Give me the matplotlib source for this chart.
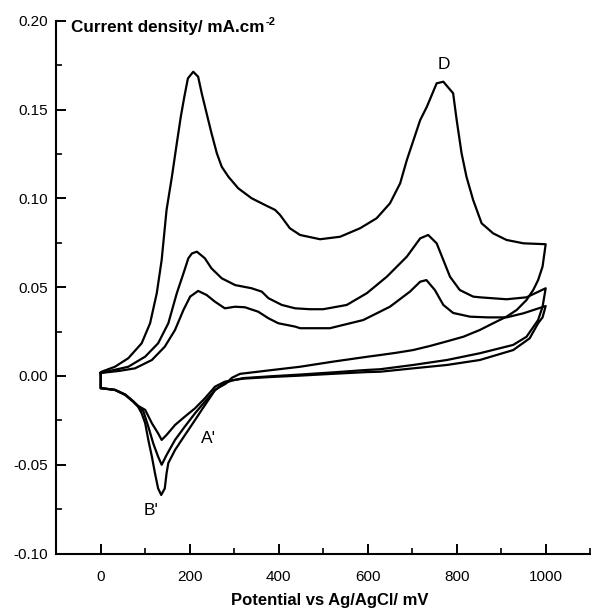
import matplotlib
matplotlib.use("Agg")
import matplotlib.pyplot as plt
import numpy as np
from matplotlib.ticker import MultipleLocator, FormatStrFormatter

plt.rcParams['font.family'] = ['Liberation Sans', 'DejaVu Sans']

# ---------------- data (potential mV, current density mA/cm2) ----------------
# cycle 1 - anodic sweep
c1_an_x = [0, 2, 32, 62, 92, 111, 126, 137, 148, 160, 171, 180, 188, 196, 208, 219, 227, 238,
           249, 261, 272, 287, 309, 339, 369, 392, 403, 425, 448, 493, 538, 583, 620, 650, 673,
           688, 718, 733, 755, 770, 792, 800, 811, 822, 837, 856, 882, 912, 950, 1000]
c1_an_y = [0.0017, 0.0024, 0.0052, 0.0100, 0.0184, 0.0297, 0.0466, 0.0653, 0.0935, 0.1122,
           0.1310, 0.1460, 0.1573, 0.1676, 0.1713, 0.1685, 0.1592, 0.1479, 0.1367, 0.1254,
           0.1178, 0.1122, 0.1057, 0.1001, 0.0963, 0.0935, 0.0907, 0.0832, 0.0794, 0.0770,
           0.0784, 0.0832, 0.0888, 0.0972, 0.1085, 0.1216, 0.1441, 0.1516, 0.1648, 0.1657,
           0.1592, 0.1441, 0.1254, 0.1122, 0.0991, 0.0860, 0.0803, 0.0766, 0.0747, 0.0742]
# cycle 1 - cathodic sweep
c1_ca_x = [1000, 993, 983, 972, 957, 935, 912, 882, 852, 815, 778, 740, 702, 665, 628, 598, 520,
           448, 380, 313, 295, 280, 265, 257, 242, 227, 212, 197, 182, 167, 152, 148, 144, 136,
           129, 122, 115, 107, 100, 92, 84, 73, 55, 32, 2, 0]
c1_ca_y = [0.0742, 0.0616, 0.0540, 0.0484, 0.0428, 0.0372, 0.0334, 0.0297, 0.0259, 0.0221,
           0.0195, 0.0169, 0.0146, 0.0131, 0.0118, 0.0108, 0.0080, 0.0052, 0.0032, 0.0012,
           -0.0010, -0.0045, -0.0065, -0.0079, -0.0135, -0.0191, -0.0248, -0.0304, -0.0360,
           -0.0417, -0.0490, -0.0548, -0.0633, -0.0670, -0.0633, -0.0548, -0.0454, -0.0360,
           -0.0266, -0.0210, -0.0173, -0.0145, -0.0107, -0.0079, -0.0069, -0.0069]

# cycle 2 - anodic sweep
c2_an_x = [0, 32, 62, 100, 129, 152, 171, 186, 197, 205, 216, 234, 249, 272, 302, 339, 362, 377,
           407, 437, 470, 500, 553, 598, 643, 688, 718, 736, 755, 770, 785, 807, 837, 852, 912,
           957, 1000]
c2_an_y = [0.0017, 0.0035, 0.0052, 0.0109, 0.0184, 0.0297, 0.0466, 0.0578, 0.0663, 0.0690,
           0.0700, 0.0663, 0.0606, 0.0550, 0.0512, 0.0494, 0.0475, 0.0438, 0.0400, 0.0381,
           0.0376, 0.0376, 0.0400, 0.0466, 0.0559, 0.0672, 0.0775, 0.0794, 0.0747, 0.0653,
           0.0559, 0.0484, 0.0447, 0.0443, 0.0432, 0.0443, 0.0494]
# cycle 2 - cathodic sweep
c2_ca_x = [1000, 993, 983, 957, 927, 852, 778, 702, 628, 598, 520, 448, 380, 320, 295, 279, 257,
           234, 212, 189, 167, 148, 137, 129, 118, 107, 96, 84, 73, 55, 32, 2, 0]
c2_ca_y = [0.0494, 0.0390, 0.0315, 0.0221, 0.0175, 0.0128, 0.0090, 0.0062, 0.0038, 0.0034,
           0.0020, 0.0008, -0.0002, -0.0012, -0.0025, -0.0041, -0.0079, -0.0145, -0.0210,
           -0.0285, -0.0360, -0.0445, -0.0500, -0.0454, -0.0379, -0.0285, -0.0200, -0.0170,
           -0.0143, -0.0105, -0.0078, -0.0069, -0.0069]

# cycle 3 - anodic sweep
c3_an_x = [0, 40, 77, 115, 144, 167, 186, 201, 219, 238, 257, 279, 302, 324, 354, 377, 399, 437,
           448, 515, 590, 650, 695, 718, 732, 751, 770, 792, 830, 870, 912, 950, 1000]
c3_an_y = [0.0017, 0.0028, 0.0043, 0.0090, 0.0165, 0.0259, 0.0372, 0.0447, 0.0479, 0.0456,
           0.0418, 0.0381, 0.0390, 0.0387, 0.0362, 0.0325, 0.0297, 0.0278, 0.0269, 0.0269,
           0.0315, 0.0390, 0.0475, 0.0531, 0.0540, 0.0484, 0.0400, 0.0355, 0.0334, 0.0330,
           0.0330, 0.0353, 0.0394]
# cycle 3 - cathodic sweep
c3_ca_x = [1000, 993, 983, 964, 927, 852, 778, 702, 628, 598, 520, 448, 380, 320, 295, 279, 257,
           234, 212, 189, 167, 148, 137, 129, 115, 100, 84, 73, 55, 32, 2, 0]
c3_ca_y = [0.0394, 0.0330, 0.0297, 0.0212, 0.0146, 0.0090, 0.0062, 0.0043, 0.0024, 0.0022,
           0.0012, 0.0002, -0.0006, -0.0015, -0.0025, -0.0032, -0.0060, -0.0126, -0.0182,
           -0.0229, -0.0276, -0.0332, -0.0360, -0.0323, -0.0266, -0.0191, -0.0168, -0.0142,
           -0.0104, -0.0078, -0.0069, -0.0069]

x_ticks = [0, 200, 400, 600, 800, 1000]
y_ticks = [-0.10, -0.05, 0.00, 0.05, 0.10, 0.15, 0.20]

labels = [("D", 772, 0.1755), ("A'", 243, -0.035), ("B'", 114, -0.0755)]

# ---------------- figure ----------------
fig = plt.figure(figsize=(5.91, 6.08), dpi=100)
ax = fig.add_axes([0.0951, 0.0895, 0.9035, 0.8763])

cycles = [(c1_an_x, c1_an_y, c1_ca_x, c1_ca_y),
          (c2_an_x, c2_an_y, c2_ca_x, c2_ca_y),
          (c3_an_x, c3_an_y, c3_ca_x, c3_ca_y)]
for an_x, an_y, ca_x, ca_y in cycles:
    xs = list(an_x) + list(ca_x) + [an_x[0]]
    ys = list(an_y) + list(ca_y) + [an_y[0]]
    ax.plot(xs, ys, color='black', lw=1.6, solid_joinstyle='round')

ax.set_xlim(-100, 1100)
ax.set_ylim(-0.10, 0.20)
ax.set_xticks(x_ticks)
ax.set_yticks(y_ticks)
ax.xaxis.set_minor_locator(MultipleLocator(100))
ax.yaxis.set_minor_locator(MultipleLocator(0.025))
ax.yaxis.set_major_formatter(FormatStrFormatter('%.2f'))
ax.tick_params(which='major', direction='in', length=7, width=1.4, labelsize=11)
ax.tick_params(which='minor', direction='in', length=4, width=1.2)
ax.tick_params(axis='x', which='major', pad=12)
ax.tick_params(axis='y', which='major', pad=6)
for s in ['top', 'right']:
    ax.spines[s].set_visible(False)
for s in ['left', 'bottom']:
    ax.spines[s].set_linewidth(1.5)

fig.text(330 / 591, 1 - 600 / 608, 'Potential vs Ag/AgCl/ mV', fontsize=12,
         fontweight='bold', ha='center', va='center')

t = ax.text(0.0277, 0.9865, 'Current density/ mA.cm', transform=ax.transAxes,
            fontsize=12.3, fontweight='bold', ha='left', va='center')
ax.annotate('-2', xy=(1, 1), xycoords=t, xytext=(1, -1), textcoords='offset points',
            fontsize=8, fontweight='bold', ha='left', va='center')

for txt, xv, yv in labels:
    ax.text(xv, yv, txt, fontsize=12.5, ha='center', va='center')

fig.savefig('out.png', dpi=100)
